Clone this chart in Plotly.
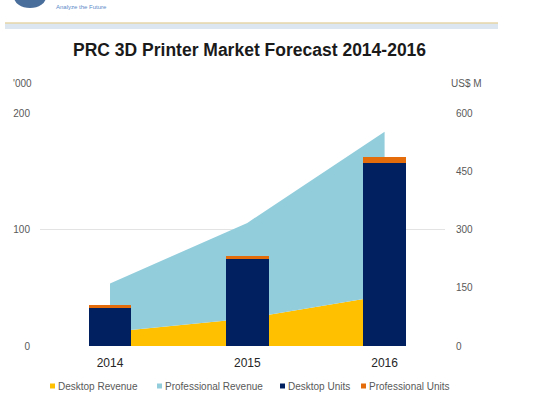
import plotly.graph_objects as go

years = ["2014", "2015", "2016"]
xpos = [0, 1, 2]
desktop_revenue = [36, 71, 130]
professional_revenue = [125, 246, 422]
desktop_units = [33, 74.5, 157.5]
professional_units = [1.8, 2.7, 5]

C_DREV = "#FFC000"
C_PREV = "#92CDDC"
C_DU = "#002060"
C_PU = "#E46C0A"
GREY = "#595959"
FONT = "Liberation Sans, Arial, sans-serif"

fig = go.Figure()
fig.add_trace(go.Scatter(x=xpos, y=desktop_revenue, stackgroup="rev", mode="none",
                         fillcolor=C_DREV, name="Desktop Revenue", yaxis="y"))
fig.add_trace(go.Scatter(x=xpos, y=professional_revenue, stackgroup="rev", mode="none",
                         fillcolor=C_PREV, name="Professional Revenue", yaxis="y"))
fig.add_trace(go.Bar(x=xpos, y=desktop_units, marker_color=C_DU, marker_line_width=0,
                     width=0.31, name="Desktop Units", yaxis="y2"))
fig.add_trace(go.Bar(x=xpos, y=professional_units, marker_color=C_PU, marker_line_width=0,
                     width=0.31, name="Professional Units", yaxis="y2"))

fig.update_layout(
    width=533, height=399,
    margin=dict(l=40, r=88, t=113, b=53),
    paper_bgcolor="white", plot_bgcolor="white",
    barmode="stack", showlegend=False,
    font=dict(family=FONT, color=GREY, size=10),
    xaxis=dict(range=[-0.51, 2.44], tickvals=xpos, ticktext=years, showgrid=False,
               zeroline=False, showline=False, ticks="",
               tickfont=dict(size=12, color="#262626", family=FONT), ticklabelstandoff=8),
    yaxis=dict(side="right", range=[0, 600], tickvals=[0, 150, 300, 450, 600],
               showgrid=False, zeroline=False, showline=False, ticks="",
               tickfont=dict(size=10, color=GREY), ticklabelstandoff=10),
    yaxis2=dict(side="left", overlaying="y", range=[0, 200], tickvals=[0, 100, 200],
                showgrid=True, gridcolor="#E3E3E3", gridwidth=1, zeroline=False,
                showline=False, ticks="", tickfont=dict(size=10, color=GREY),
                ticklabelstandoff=9),
)

# Title
fig.add_annotation(text="<b>PRC 3D Printer Market Forecast 2014-2016</b>", xref="paper", yref="paper",
                   x=(249 - 40) / 405, y=1 + (113 - 50) / 233, showarrow=False,
                   font=dict(size=17.5, color="#1a1a1a", family=FONT), xanchor="center", yanchor="middle")
# axis unit labels
fig.add_annotation(text="'000", xref="paper", yref="paper", x=(22 - 40) / 405, y=1 + (113 - 83) / 233,
                   showarrow=False, font=dict(size=10, color=GREY), xanchor="center", yanchor="middle")
fig.add_annotation(text="US$ M", xref="paper", yref="paper", x=(466 - 40) / 405, y=1 + (113 - 83) / 233,
                   showarrow=False, font=dict(size=10, color=GREY), xanchor="center", yanchor="middle")

# manual legend
legend_items = [("Desktop Revenue", C_DREV, 50), ("Professional Revenue", C_PREV, 157),
                ("Desktop Units", C_DU, 280), ("Professional Units", C_PU, 361)]
for label, col, px in legend_items:
    fig.add_shape(type="rect", xref="paper", yref="paper",
                  x0=(px - 40) / 405, x1=(px + 5 - 40) / 405,
                  y0=-(386 + 2.5 - 346) / 233, y1=-(386 - 2.5 - 346) / 233,
                  fillcolor=col, line_width=0)
    fig.add_annotation(text=label, xref="paper", yref="paper", x=(px + 6 - 40) / 405,
                       y=-(386 - 346) / 233, showarrow=False, xanchor="left", yanchor="middle",
                       font=dict(size=10, color=GREY))

# header decoration
fig.add_shape(type="rect", xref="paper", yref="paper", x0=(5 - 40) / 405, x1=(498 - 40) / 405,
              y0=1 + (113 - 29) / 233, y1=1 + (113 - 23) / 233, fillcolor="#DCE6F0", line_width=0)
fig.add_shape(type="line", xref="paper", yref="paper", x0=(5 - 40) / 405, x1=(498 - 40) / 405,
              y0=1 + (113 - 23) / 233, y1=1 + (113 - 23) / 233, line=dict(color="#E6D6A8", width=1.5))
fig.add_shape(type="circle", xref="paper", yref="paper", x0=(14 - 40) / 405, x1=(46 - 40) / 405,
              y0=1 + (113 - 8) / 233, y1=1 + (113 + 14) / 233, fillcolor="#4A6E9B", line_width=0)
fig.add_annotation(text="Analyze the Future", xref="paper", yref="paper", x=(54 - 40) / 405,
                   y=1 + (113 - 7) / 233, showarrow=False, xanchor="left", yanchor="middle",
                   font=dict(size=6, color="#5B8BC9"))

fig.write_html("out.html", config={"displayModeBar": False},
               post_script="document.body.style.margin='0';document.body.style.overflow='hidden';")
